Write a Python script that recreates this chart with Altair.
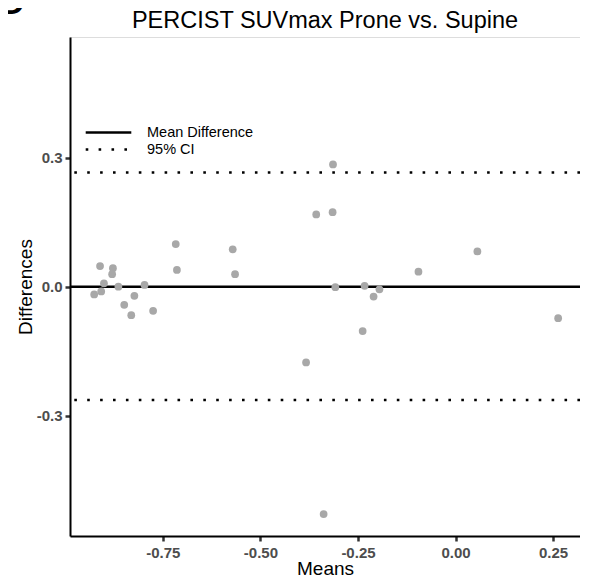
import altair as alt
import pandas as pd

# Bland-Altman data
means = [-0.926, -0.911, -0.908, -0.901, -0.878, -0.880, -0.864, -0.849, -0.831, -0.823,
         -0.797, -0.775, -0.717, -0.714, -0.571, -0.565, -0.314, -0.357, -0.315, 0.056,
         -0.095, -0.308, -0.233, -0.195, -0.210, -0.238, 0.263, -0.383, -0.338]
diffs = [-0.018, 0.048, -0.011, 0.008, 0.043, 0.029, 0.000, -0.042, -0.066, -0.021,
         0.004, -0.056, 0.099, 0.039, 0.087, 0.029, 0.284, 0.168, 0.173, 0.082,
         0.035, -0.001, 0.002, -0.006, -0.023, -0.103, -0.073, -0.176, -0.528]

line_labels = ["Mean Difference", "95% CI", "95% CI"]
line_values = [0.0, 0.265, -0.263]

x_ticks = [-0.75, -0.50, -0.25, 0.00, 0.25]
y_ticks = [-0.3, 0.0, 0.3]

chart_title = "PERCIST SUVmax Prone vs. Supine"
panel_letter = "D"

df_pts = pd.DataFrame({"Means": means, "Differences": diffs})
df_lines = pd.DataFrame({"label": line_labels, "value": line_values})

FONT = "Liberation Sans"
xscale = alt.Scale(domain=[-0.988, 0.319], nice=False, zero=False)
yscale = alt.Scale(domain=[-0.579, 0.580], nice=False, zero=False)

axis_common = dict(
    grid=False, domainColor="black", domainWidth=2, tickColor="#333333",
    tickWidth=2.5, tickSize=5, labelFont=FONT, labelFontSize=15,
    labelFontWeight="bold", labelColor="#4D4D4D", titleFont=FONT,
    titleFontSize=19, titleFontWeight="normal", titleColor="black",
)

lines = alt.Chart(df_lines).mark_rule(strokeWidth=2.5, color="black").encode(
    y=alt.Y("value:Q", scale=yscale),
    strokeDash=alt.StrokeDash(
        "label:N",
        scale=alt.Scale(domain=["Mean Difference", "95% CI"], range=[[1, 0], [2.6, 10.3]]),
        legend=alt.Legend(
            title=None, orient="none", legendX=31, legendY=88, padding=0,
            symbolType="M-3.8,0H3.8", symbolSize=144, symbolStrokeWidth=2.5,
            symbolStrokeColor="black", labelFont=FONT, labelFontSize=14.5,
            labelColor="black", labelOffset=31, rowPadding=2,
        ),
    ),
)

points = alt.Chart(df_pts).mark_circle(size=60, color="#A8A8A8", opacity=1).encode(
    x=alt.X("Means:Q", scale=xscale, axis=alt.Axis(
        values=x_ticks, title="Means", labelPadding=4,
        labelExpr="replace(format(datum.value, '.2f'), '\u2212', '-')",
        titleY=38, titleBaseline="alphabetic", **axis_common)),
    y=alt.Y("Differences:Q", scale=yscale, axis=alt.Axis(
        values=y_ticks, title="Differences", labelPadding=3,
        labelExpr="replace(format(datum.value, '.1f'), '\u2212', '-')",
        titleX=-38.3, titleBaseline="alphabetic", **axis_common)),
)

# chart title, centred over the plot area
title_mark = alt.Chart(pd.DataFrame({"t": [chart_title]})).mark_text(
    font=FONT, fontSize=23.5, fontWeight="normal", align="center", baseline="alphabetic",
    color="black"
).encode(text="t:N", x=alt.value(255), y=alt.value(-9))

# panel letter, clipped at the top edge as in the reference
panel = alt.Chart(pd.DataFrame({"t": [panel_letter]})).mark_text(
    font=FONT, fontSize=34, fontWeight="bold", align="left", baseline="top", color="black"
).encode(text="t:N", x=alt.value(-70), y=alt.value(-50))

chart = alt.layer(lines, points, title_mark, panel).properties(
    width=510, height=499,
    autosize=alt.AutoSizeParams(type="none"),
    padding={"left": 62, "top": 29, "right": 0, "bottom": 41},
).configure_view(stroke=None).configure(background="white")

chart.save("out.html", embed_options={"renderer": "svg", "actions": False})
